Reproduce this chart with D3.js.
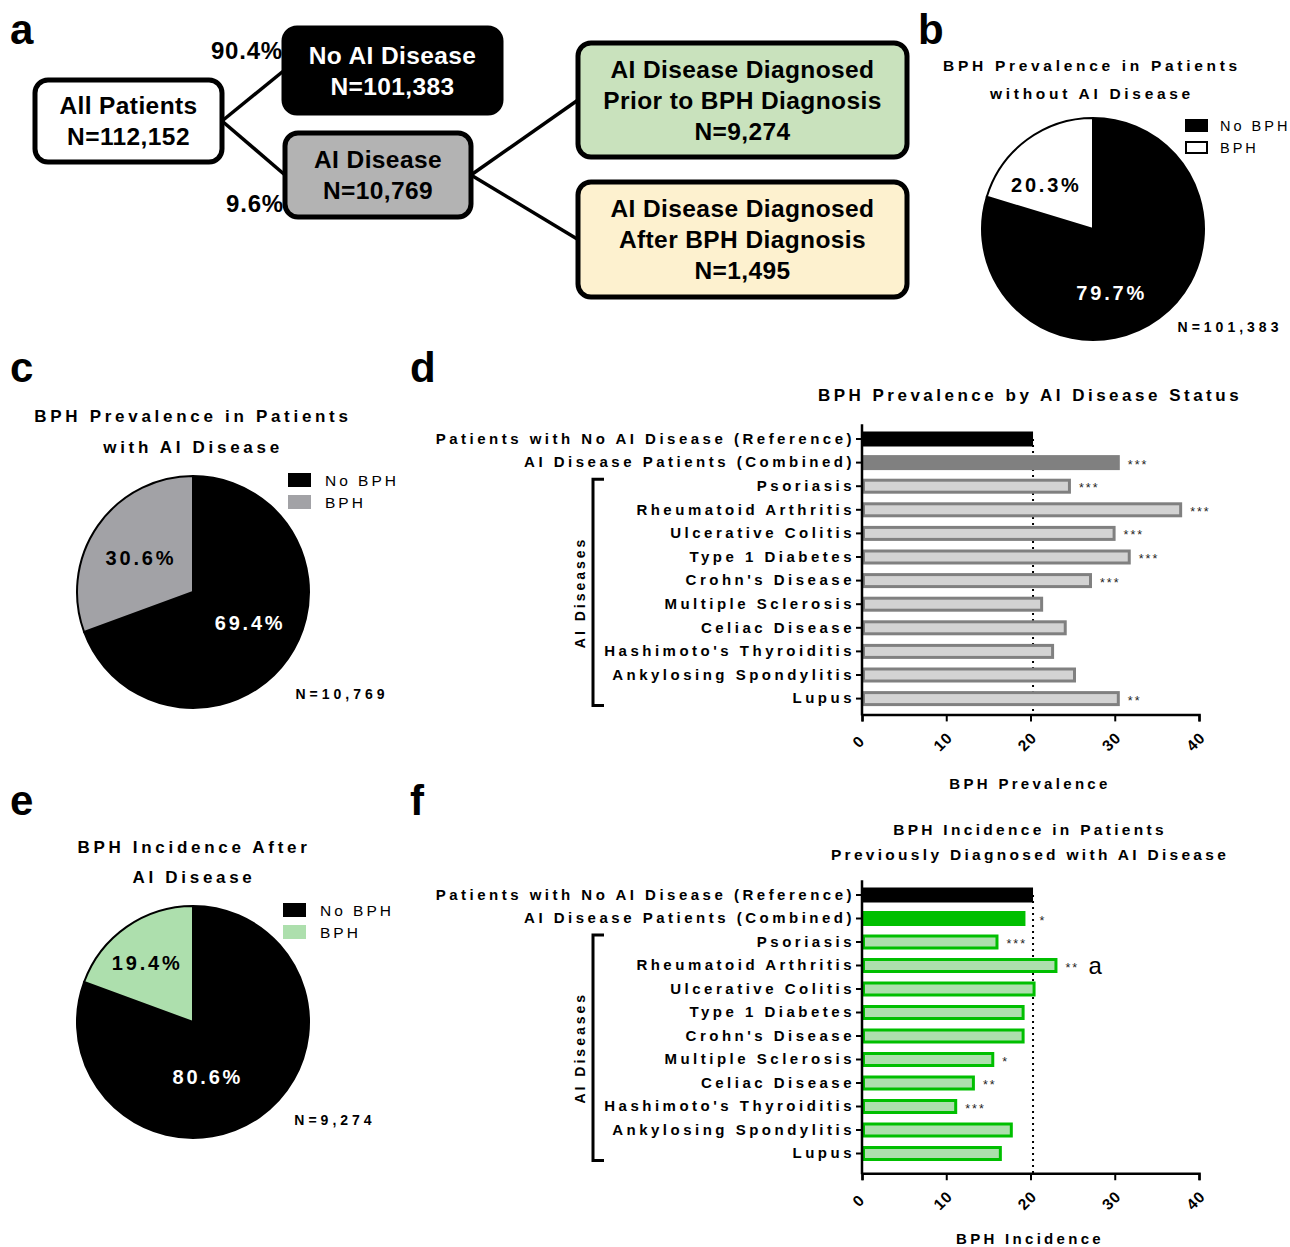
<!DOCTYPE html>
<html>
<head>
<meta charset="utf-8">
<script src="https://cdn.jsdelivr.net/npm/d3@7"></script>
<style>
  body { margin: 0; background: #fff; }
  text { font-family: 'Liberation Sans', Arial, sans-serif; }
</style>
</head>
<body>
<div id="chart"></div>
<script>
// flowchart (panel a)
const flowNames = [['All Patients'], ['No AI Disease'], ['AI Disease'], ['AI Disease Diagnosed', 'Prior to BPH Diagnosis'], ['AI Disease Diagnosed', 'After BPH Diagnosis']]
const flowCounts = [112152, 101383, 10769, 9274, 1495]
const flowLinks = [[0, 1], [0, 2], [2, 3], [2, 4]]
const flowShares = ['90.4%', '9.6%']

// pies (panels b, c, e)
const pieKeys = ['No BPH', 'BPH']
const pieB = [79.7, 20.3]
const pieC = [69.4, 30.6]
const pieE = [80.6, 19.4]

// bar charts (panels d, f)
const diseases = ['Patients with No AI Disease (Reference)', 'AI Disease Patients (Combined)', 'Psoriasis', 'Rheumatoid Arthritis', 'Ulcerative Colitis', 'Type 1 Diabetes', "Crohn's Disease", 'Multiple Sclerosis', 'Celiac Disease', "Hashimoto's Thyroiditis", 'Ankylosing Spondylitis', 'Lupus']
const prevalence = [20.3, 30.6, 24.8, 38.0, 30.1, 31.9, 27.3, 21.5, 24.3, 22.8, 25.4, 30.6]
const prevalenceSig = ['', '***', '***', '***', '***', '***', '***', '', '', '', '', '**']
const incidence = [20.3, 19.4, 16.2, 23.2, 20.6, 19.3, 19.3, 15.7, 13.4, 11.3, 17.9, 16.6]
const incidenceSig = ['', '*', '***', '**', '', '', '', '*', '**', '***', '', '']
const xTicks = [0, 10, 20, 30, 40]

const svg = d3.select('#chart').append('svg')
  .attr('width', 1290)
  .attr('height', 1247)

// panel letters
const panelLetters = [['a', 10, 44], ['b', 918, 44], ['c', 10, 382], ['d', 410, 382], ['e', 10, 815], ['f', 410, 815]]
svg.selectAll('.panel-letter')
  .data(panelLetters)
  .enter().append('text')
  .attr('class', 'panel-letter')
  .attr('x', d => d[1])
  .attr('y', d => d[2])
  .attr('font-size', 42)
  .attr('font-weight', 'bold')
  .text(d => d[0])

// ---------- panel a: flowchart ----------
const flowBoxes = [
  { x: 35, y: 80, w: 187, h: 82, fill: '#ffffff', color: '#000' },
  { x: 284, y: 28, w: 217, h: 85, fill: '#000000', color: '#fff' },
  { x: 285, y: 133, w: 186, h: 84, fill: '#b3b3b3', color: '#000' },
  { x: 578, y: 43, w: 329, h: 114, fill: '#c9e2bd', color: '#000' },
  { x: 578, y: 182, w: 329, h: 115, fill: '#fdf1cf', color: '#000' }
]
const flow = svg.append('g').attr('class', 'flow')

flow.selectAll('line')
  .data(flowLinks)
  .enter().append('line')
  .attr('x1', d => flowBoxes[d[0]].x + flowBoxes[d[0]].w)
  .attr('y1', d => flowBoxes[d[0]].y + flowBoxes[d[0]].h / 2)
  .attr('x2', d => flowBoxes[d[1]].x)
  .attr('y2', d => flowBoxes[d[1]].y + flowBoxes[d[1]].h / 2)
  .attr('stroke', '#000')
  .attr('stroke-width', 3.5)

const nodes = flow.selectAll('.node')
  .data(flowNames.map((name, i) => ({ lines: name.concat('N=' + d3.format(',')(flowCounts[i])), box: flowBoxes[i] })))
  .enter().append('g')
  .attr('class', 'node')

nodes.append('rect')
  .attr('x', d => d.box.x)
  .attr('y', d => d.box.y)
  .attr('width', d => d.box.w)
  .attr('height', d => d.box.h)
  .attr('rx', 13)
  .attr('fill', d => d.box.fill)
  .attr('stroke', '#000')
  .attr('stroke-width', 5)

nodes.each(function (d) {
  const cy = d.box.y + d.box.h / 2
  const n = d.lines.length
  d3.select(this).selectAll('text')
    .data(d.lines)
    .enter().append('text')
    .attr('x', d.box.x + d.box.w / 2)
    .attr('y', (t, i) => cy + (i - (n - 1) / 2) * 31)
    .attr('dy', '0.36em')
    .attr('text-anchor', 'middle')
    .attr('font-size', 24.5)
    .attr('font-weight', 'bold')
    .attr('letter-spacing', 0.4)
    .attr('fill', d.box.color)
    .text(t => t)
})

// share labels next to the two first-level boxes
flow.selectAll('.share')
  .data(flowShares)
  .enter().append('text')
  .attr('class', 'share')
  .attr('x', (d, i) => flowBoxes[i + 1].x - 1)
  .attr('y', (d, i) => i === 0 ? flowBoxes[1].y + 22 : flowBoxes[2].y + flowBoxes[2].h - 14)
  .attr('dy', '0.36em')
  .attr('text-anchor', 'end')
  .attr('font-size', 24)
  .attr('font-weight', 'bold')
  .attr('letter-spacing', 0.8)
  .text(d => d)

// ---------- pies ----------
const drawPie = (values, opts) => {
  const g = svg.append('g')
  const color = d3.scaleOrdinal().domain(pieKeys).range(['#000000', opts.bphColor])
  const pie = d3.pie().sort(null).value(d => d.value)
  const arcs = pie(pieKeys.map((k, i) => ({ key: k, value: values[i] })))
  const arc = d3.arc().innerRadius(0).outerRadius(opts.r)
  const labelArc = d3.arc().innerRadius(opts.r * 1.2).outerRadius(0)

  // title
  g.selectAll('.title')
    .data(opts.title)
    .enter().append('text')
    .attr('x', opts.titleX)
    .attr('y', (d, i) => opts.titleY + i * opts.titleGap)
    .attr('dy', '0.36em')
    .attr('text-anchor', 'middle')
    .attr('font-size', opts.titleSize)
    .attr('font-weight', 'bold')
    .attr('letter-spacing', opts.titleSpacing)
    .text(d => d)

  const pg = g.append('g').attr('transform', `translate(${opts.cx},${opts.cy})`)
  pg.selectAll('path')
    .data(arcs)
    .enter().append('path')
    .attr('d', arc)
    .attr('fill', d => color(d.data.key))
    .attr('stroke', '#000')
    .attr('stroke-width', 2)

  pg.selectAll('.pct')
    .data(arcs)
    .enter().append('text')
    .attr('class', 'pct')
    .attr('transform', (d, i) => {
      const c = labelArc.centroid(d)
      const off = opts.labelOffsets[i]
      return `translate(${c[0] + off[0]},${c[1] + off[1]})`
    })
    .attr('dy', '0.36em')
    .attr('text-anchor', 'middle')
    .attr('font-size', 20)
    .attr('font-weight', 'bold')
    .attr('letter-spacing', 2.8)
    .attr('fill', d => d.data.key === 'No BPH' ? '#fff' : '#000')
    .text(d => d.data.value.toFixed(1) + '%')

  // legend
  const outlined = opts.bphColor === '#ffffff'
  const lg = g.append('g').attr('transform', `translate(${opts.legX},${opts.legY})`)
  const items = lg.selectAll('g')
    .data(pieKeys)
    .enter().append('g')
    .attr('transform', (d, i) => `translate(0,${i * 22})`)
  items.append('rect')
    .attr('x', outlined ? 1 : 0)
    .attr('y', outlined ? 1 : 0)
    .attr('width', outlined ? 21 : 23)
    .attr('height', outlined ? 11 : 14)
    .attr('fill', d => color(d))
    .attr('stroke', outlined ? '#000' : 'none')
    .attr('stroke-width', 2)
  items.append('text')
    .attr('x', opts.legTextDx)
    .attr('y', 7)
    .attr('dy', '0.36em')
    .attr('font-size', opts.legSize)
    .attr('letter-spacing', 3)
    .text(d => d)

  g.append('text')
    .attr('x', opts.nX)
    .attr('y', opts.nY)
    .attr('dy', '0.36em')
    .attr('text-anchor', 'middle')
    .attr('font-size', 14)
    .attr('font-weight', 'bold')
    .attr('letter-spacing', 4)
    .text(opts.nLabel)
}

drawPie(pieB, {
  cx: 1093, cy: 229, r: 111, bphColor: '#ffffff',
  title: ['BPH Prevalence in Patients', 'without AI Disease'], titleX: 1092, titleY: 65, titleGap: 28, titleSize: 15.5, titleSpacing: 3.7,
  legX: 1185, legY: 119, legTextDx: 35, legSize: 14.5,
  nX: 1230, nY: 327, nLabel: 'N=101,383',
  labelOffsets: [[-21, 10], [-7, 9]]
})

drawPie(pieC, {
  cx: 193, cy: 592, r: 116, bphColor: '#a2a2a6',
  title: ['BPH Prevalence in Patients', 'with AI Disease'], titleX: 193, titleY: 416, titleGap: 31, titleSize: 17, titleSpacing: 3.7,
  legX: 288, legY: 473, legTextDx: 37, legSize: 15.5,
  nX: 342, nY: 694, nLabel: 'N=10,769',
  labelOffsets: [[0, -9], [5, 6]]
})

drawPie(pieE, {
  cx: 193, cy: 1022, r: 116, bphColor: '#addfad',
  title: ['BPH Incidence After', 'AI Disease'], titleX: 194, titleY: 847, titleGap: 30, titleSize: 17, titleSpacing: 3.7,
  legX: 283, legY: 903, legTextDx: 37, legSize: 15.5,
  nX: 335, nY: 1120, nLabel: 'N=9,274',
  labelOffsets: [[-25, -2], [-6, -2]]
})

// ---------- horizontal bar charts ----------
const drawBars = (values, sig, opts) => {
  const g = svg.append('g')
  const step = opts.step
  const xScale = d3.scaleLinear().domain([0, 40]).range([862, 1199])
  const yScale = d3.scaleBand()
    .domain(diseases)
    .range([opts.top - step / 2, opts.top - step / 2 + step * diseases.length])
  const axisY = yScale.range()[1] + opts.axisGap
  const barH = 15

  // titles
  g.selectAll('.title')
    .data(opts.title)
    .enter().append('text')
    .attr('x', 1030)
    .attr('y', (d, i) => opts.titleY + i * 25)
    .attr('dy', '0.36em')
    .attr('text-anchor', 'middle')
    .attr('font-size', opts.titleSize)
    .attr('font-weight', 'bold')
    .attr('letter-spacing', opts.titleSpacing)
    .text(d => d)

  // reference dotted line
  g.append('line')
    .attr('x1', xScale(values[0]))
    .attr('x2', xScale(values[0]))
    .attr('y1', yScale(diseases[0]) + step / 2)
    .attr('y2', axisY)
    .attr('stroke', '#000')
    .attr('stroke-width', 2)
    .attr('stroke-dasharray', '2,4')

  const rows = diseases.map((d, i) => ({ name: d, value: values[i], sig: sig[i], i }))

  g.selectAll('.bar')
    .data(rows)
    .enter().append('rect')
    .attr('class', 'bar')
    .attr('x', d => d.i < 2 ? xScale(0) : xScale(0) + 1.5)
    .attr('y', d => yScale(d.name) + (step - barH) / 2 + (d.i < 2 ? 0 : 1.5))
    .attr('width', d => d.i < 2 ? xScale(d.value) - xScale(0) : xScale(d.value) - xScale(0) - 3)
    .attr('height', d => d.i < 2 ? barH : barH - 3)
    .attr('fill', d => d.i === 0 ? '#000' : d.i === 1 ? opts.dark : opts.light)
    .attr('stroke', d => d.i < 2 ? 'none' : opts.dark)
    .attr('stroke-width', 3)

  g.selectAll('.sig')
    .data(rows.filter(d => d.sig))
    .enter().append('text')
    .attr('class', 'sig')
    .attr('x', d => xScale(d.value) + (d.value < values[0] && xScale(values[0]) - xScale(d.value) < 8 ? 14 : 8))
    .attr('y', d => yScale(d.name) + step / 2 + 6)
    .attr('font-size', 12.5)
    .attr('letter-spacing', 2)
    .attr('fill', '#222')
    .text(d => d.sig)

  if (opts.note) {
    g.append('text')
      .attr('x', xScale(values[opts.note.index]) + 31)
      .attr('y', yScale(diseases[opts.note.index]) + step / 2)
      .attr('dy', '0.36em')
      .attr('font-size', 24)
      .text(opts.note.text)
  }

  // y axis
  const yAxis = g.append('g')
    .attr('transform', `translate(${xScale(0)},0)`)
    .call(d3.axisLeft(yScale).tickSize(6).tickSizeOuter(0).tickPadding(1))
  yAxis.select('.domain').remove()
  yAxis.selectAll('.tick line').attr('stroke-width', 2)
  yAxis.selectAll('.tick text')
    .attr('font-size', 15)
    .attr('font-weight', 'bold')
    .attr('letter-spacing', 3.5)
    .attr('fill', '#000')
    .attr('font-family', "'Liberation Sans', Arial, sans-serif")
  g.append('line')
    .attr('x1', xScale(0)).attr('x2', xScale(0))
    .attr('y1', yScale.range()[0] - 3)
    .attr('y2', axisY + 1)
    .attr('stroke', '#000')
    .attr('stroke-width', 2.5)

  // x axis
  const xAxis = g.append('g')
    .attr('transform', `translate(0,${axisY})`)
    .call(d3.axisBottom(xScale).tickValues(xTicks).tickSize(7).tickSizeOuter(7).tickFormat(d3.format('d')))
  xAxis.select('.domain').attr('stroke-width', 2.5)
  xAxis.selectAll('.tick line').attr('stroke-width', 2)
  xAxis.selectAll('.tick text')
    .attr('font-size', 15.5)
    .attr('font-weight', 'bold')
    .attr('letter-spacing', 1)
    .attr('font-family', "'Liberation Sans', Arial, sans-serif")
    .attr('text-anchor', 'middle')
    .attr('dy', 0)
    .attr('y', 0)
    .attr('transform', 'translate(0,31) rotate(-45)')

  g.append('text')
    .attr('x', 1030)
    .attr('y', axisY + opts.axisTitleGap)
    .attr('dy', '0.36em')
    .attr('text-anchor', 'middle')
    .attr('font-size', 15)
    .attr('font-weight', 'bold')
    .attr('letter-spacing', 3.3)
    .text(opts.axisTitle)

  // bracket grouping the individual AI diseases
  const bx = xScale(0) - 269
  const bTop = yScale(diseases[2]) + step / 2 - 7
  const bBottom = yScale(diseases[diseases.length - 1]) + step / 2 + 7
  g.append('path')
    .attr('d', `M${bx + 11},${bTop}H${bx}V${bBottom}H${bx + 11}`)
    .attr('fill', 'none')
    .attr('stroke', '#000')
    .attr('stroke-width', 3)
  g.append('text')
    .attr('transform', `translate(${bx - 13},${(bTop + bBottom) / 2}) rotate(-90)`)
    .attr('dy', '0.36em')
    .attr('text-anchor', 'middle')
    .attr('font-size', 14)
    .attr('font-weight', 'bold')
    .attr('letter-spacing', 3)
    .text('AI Diseases')
}

drawBars(prevalence, prevalenceSig, {
  top: 439, step: 23.6, axisGap: 4, axisTitleGap: 69,
  title: ['BPH Prevalence by AI Disease Status'], titleY: 395, titleSize: 17, titleSpacing: 3.5,
  dark: '#808080', light: '#d3d3d3',
  axisTitle: 'BPH Prevalence'
})

drawBars(incidence, incidenceSig, {
  top: 895, step: 23.5, axisGap: 8, axisTitleGap: 65,
  title: ['BPH Incidence in Patients', 'Previously Diagnosed with AI Disease'], titleY: 829, titleSize: 15.5, titleSpacing: 3.3,
  dark: '#00bf00', light: '#addfad',
  axisTitle: 'BPH Incidence',
  note: { index: 3, text: 'a' }
})
</script>
</body>
</html>
